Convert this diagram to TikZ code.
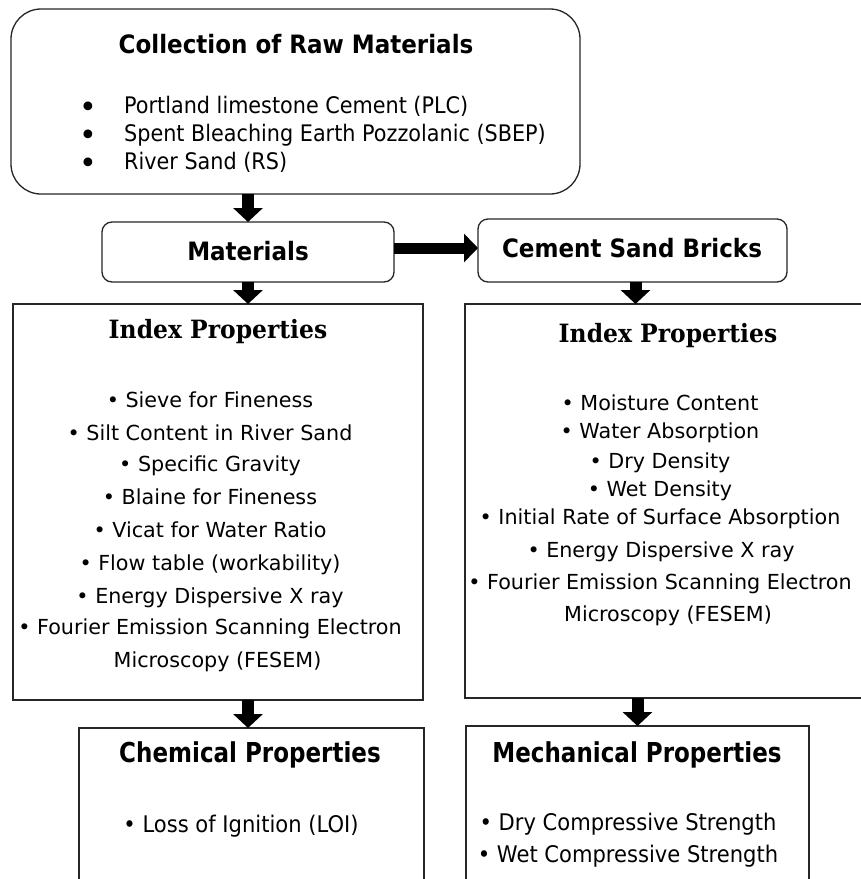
\documentclass[tikz,border=0pt]{standalone}
\usepackage{fontspec}
\usetikzlibrary{arrows.meta}
\setmainfont{DejaVu Sans}
\newfontfamily\tahfont[FakeStretch=0.91]{DejaVu Sans}
\newfontfamily\verdfont{DejaVu Sans}
\newfontfamily\serfont[FakeStretch=0.93]{DejaVu Serif}
\newfontfamily\condBfont[FakeStretch=0.84]{DejaVu Sans}
\newfontfamily\condRfont[FakeStretch=0.92]{DejaVu Sans}
\newcommand\myfs[1]{\fontsize{#1}{#1}\selectfont}
\tikzset{
  box/.style={draw=black!85, line width=1.3pt, inner sep=0pt, outer sep=0pt, anchor=north west},
  rbox/.style={box, rounded corners=10pt},
  blockarrow/.style={line width=12pt, black, -{Triangle[width=29pt,length=14pt]}},
  txt/.style={inner sep=0pt, anchor=base},
  headA/.style={txt, font=\tahfont\bfseries\myfs{25.3}},
  toplist/.style={txt, anchor=base west, font=\tahfont\myfs{22.8}},
  topbul/.style={txt, font=\verdfont\myfs{30}},
  serhead/.style={txt, font=\serfont\bfseries\myfs{25.2}},
  item/.style={txt, font=\verdfont\myfs{20.7}},
  condhead/.style={txt, font=\condBfont\bfseries\myfs{27.4}},
  conditem/.style={txt, font=\condRfont\myfs{22.9}}
}
\begin{document}
\begin{tikzpicture}[x=1pt,y=-1pt]
\useasboundingbox (0,0) rectangle (861,879);
\fill[white] (0,0) rectangle (861,879);
\clip (0,0) rectangle (861,879);

% boxes
\node[box, rounded corners=30pt, minimum width=569pt, minimum height=185pt] (top) at (11,9) {};
\node[rbox, minimum width=292pt, minimum height=60pt] (mat) at (102,222) {};
\node[rbox, minimum width=309pt, minimum height=63pt] (cem) at (478,219) {};
\node[box, minimum width=410pt, minimum height=396pt] (idxL) at (13,304) {};
\node[box, minimum width=420pt, minimum height=394pt] (idxR) at (465,304) {};
\node[box, minimum width=345pt, minimum height=180pt] (chem) at (79,728) {};
\node[box, minimum width=343pt, minimum height=182pt] (mech) at (466,726) {};

% top box text
\node[headA] (tTitle) at (296,53) {Collection of Raw Materials};
\node[topbul] (tb1) at (88,117) {•};
\node[topbul] (tb2) at (88,145) {•};
\node[topbul] (tb3) at (88,173) {•};
\node[toplist] (tl1) at (124,113) {Portland limestone Cement (PLC)};
\node[toplist] (tl2) at (124,141) {Spent Bleaching Earth Pozzolanic (SBEP)};
\node[toplist] (tl3) at (124,169) {River Sand (RS)};

% materials / bricks
\node[headA] (matT) at (248,260) {Materials};
\node[headA] (cemT) at (632,257) {Cement Sand Bricks};

% left index
\node[serhead] (iLT) at (218,338) {Index Properties};
\node[item] (l1) at (210,407.5) {• Sieve for Fineness};
\node[item] (l2) at (210,440.5) {• Silt Content in River Sand};
\node[item] (l3) at (210,471.5) {• Specific Gravity};
\node[item] (l4) at (210,504.5) {• Blaine for Fineness};
\node[item] (l5) at (210,537.5) {• Vicat for Water Ratio};
\node[item] (l6) at (210,570.5) {• Flow table (workability)};
\node[item] (l7) at (210,603.5) {• Energy Dispersive X ray};
\node[item] (l8) at (210,634.5) {• Fourier Emission Scanning Electron};
\node[item] (l9) at (217.5,667.5) {Microscopy (FESEM)};

% right index
\node[serhead] (iRT) at (668,342) {Index Properties};
\node[item] (r1) at (660,410.5) {• Moisture Content};
\node[item] (r2) at (660,438.5) {• Water Absorption};
\node[item] (r3) at (660,468.5) {• Dry Density};
\node[item] (r4) at (660,496.5) {• Wet Density};
\node[item] (r5) at (660,524.5) {• Initial Rate of Surface Absorption};
\node[item] (r6) at (661,557.5) {• Energy Dispersive X ray};
\node[item] (r7) at (660,589.5) {• Fourier Emission Scanning Electron};
\node[item] (r8) at (668,621.5) {Microscopy (FESEM)};

% bottom boxes
\node[condhead] (chemT) at (250,762) {Chemical Properties};
\node[conditem] (c1) at (241,832) {• Loss of Ignition (LOI)};
\node[condhead] (mechT) at (637,762) {Mechanical Properties};
\node[conditem] (m1) at (628,830) {• Dry Compressive Strength};
\node[conditem] (m2) at (628,862) {• Wet Compressive Strength};

% arrows
\draw[blockarrow] (mat.north |- top.south) -- (mat.north);
\draw[blockarrow] (mat.south) -- (mat.south |- idxL.north);
\draw[blockarrow] ([xshift=3pt]cem.south) -- ([xshift=3pt]cem.south |- idxR.north);
\draw[blockarrow] (mat.south |- idxL.south) -- (mat.south |- chem.north);
\draw[blockarrow] (mech.north |- idxR.south) -- (mech.north);
\draw[blockarrow, line width=11pt, -{Triangle[width=28pt,length=14pt]}] ([yshift=4pt]mat.east) -- ([yshift=4pt]mat.east -| cem.west);
\end{tikzpicture}
\end{document}
